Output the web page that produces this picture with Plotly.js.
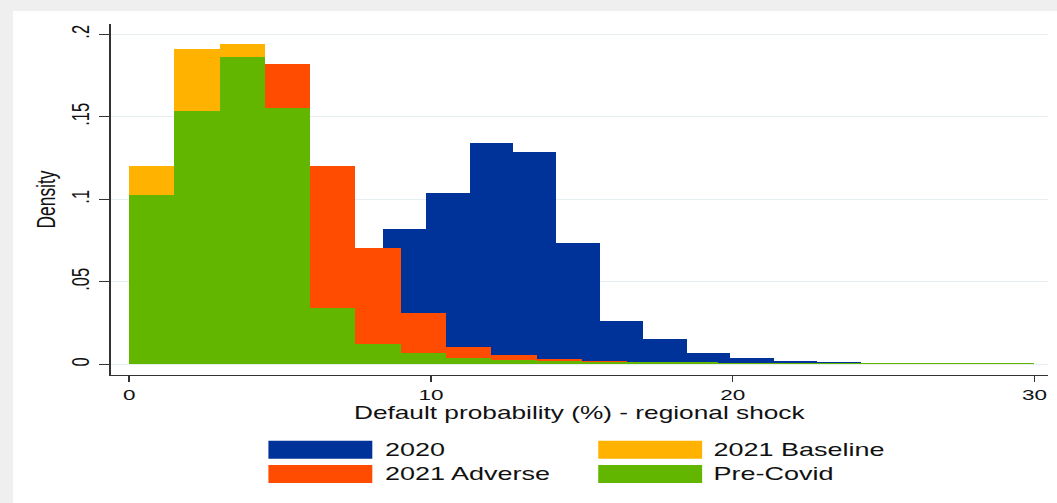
<!DOCTYPE html>
<html>
<head>
<meta charset="utf-8">
<script src="https://cdn.plot.ly/plotly-3.0.1.min.js"></script>
<style>
  html, body { margin: 0; padding: 0; width: 1057px; height: 503px; overflow: hidden; background: #efefef; }
  #chart { position: absolute; left: 13px; top: 11px; width: 696px; height: 492px;
           transform: scaleX(1.5); transform-origin: 0 0; background: #ffffff; }
</style>
</head>
<body>
<div id="chart"></div>
<script>
// ---- data ----
const seriesNames = ['2020', '2021 Baseline', '2021 Adverse', 'Pre-Covid'];

// 2020 histogram: bin left edges and densities
const binEdges2020 = [1.2, 2.64, 4.08, 5.52, 6.96, 8.4, 9.84, 11.28, 12.72, 14.16, 15.6, 17.04, 18.48, 19.92, 21.36, 22.8, 24.24];
const density2020  = [0.0005, 0.0005, 0.01, 0.03, 0.06, 0.0822, 0.1036, 0.1339, 0.1285, 0.0735, 0.0265, 0.0156, 0.0069, 0.0038, 0.0021, 0.0014, 0.0010];
const binWidth2020 = 1.44;

// 2021 / Pre-Covid histograms: bin left edges
const binEdges2021 = [0, 1.5, 3, 4.5, 6, 7.5, 9, 10.5, 12, 13.5, 15, 16.5, 18, 19.5, 21, 22.5, 24, 25.5, 27, 28.5];
const densityBaseline = [0.1202, 0.1909, 0.1941, 0.1, 0.03, 0.012, 0.005, 0.003, 0.002, 0.0015, 0.001, 0.001];
const densityAdverse  = [0.012, 0.07, 0.15, 0.182, 0.1202, 0.0705, 0.0311, 0.0103, 0.0056, 0.0031, 0.0021, 0.0015, 0.0012, 0.0009];
const densityPreCovid = [0.1028, 0.1533, 0.1861, 0.1553, 0.0343, 0.0123, 0.0068, 0.0041, 0.0029, 0.0021, 0.0016, 0.0013, 0.0011, 0.0010, 0.0008, 0.0007, 0.0007, 0.0006, 0.0006, 0.0006];
const binWidth2021 = 1.5;

const xTickVals = [0, 10, 20, 30];
const yTickVals = [0, 0.05, 0.1, 0.15, 0.2];
const yTickText = ['0', '.05', '.1', '.15', '.2'];
const xTitle = 'Default probability (%) - regional shock';
const yTitle = 'Density';

// ---- styling ----
const colors = { '2020': '#003399', '2021 Baseline': '#ffb200', '2021 Adverse': '#ff4c00', 'Pre-Covid': '#63b600' };
const FONT = '"Liberation Sans", Arial, Helvetica, sans-serif';
const W = 696, H = 492;
const M = { l: 64.67, r: 6, t: 13, b: 128 };
const plotW = W - M.l - M.r, plotH = H - M.t - M.b;
const xP = u => (u - M.l) / plotW;
const yP = d => (H - M.b - d) / plotH;

function barTrace(name, edges, vals, width) {
  return {
    type: 'bar', name: name,
    x: edges.slice(0, vals.length), y: vals,
    width: width, offset: 0,
    marker: { color: colors[name], line: { width: 0 } },
    showlegend: false, hoverinfo: 'x+y+name'
  };
}

const traces = [
  barTrace('2020', binEdges2020, density2020, binWidth2020),
  barTrace('2021 Baseline', binEdges2021, densityBaseline, binWidth2021),
  barTrace('2021 Adverse', binEdges2021, densityAdverse, binWidth2021),
  barTrace('Pre-Covid', binEdges2021, densityPreCovid, binWidth2021)
];

// legend drawn as wide swatches (2 columns x 2 rows)
const legendCols = [170, 390];
const legendTextX = [245.3, 465.3];
const legendRows = [438.7, 463];
const swatchW = 69.3, swatchH = 18;
const shapes = [], annotations = [];
seriesNames.forEach((nm, i) => {
  const c = i % 2, r = Math.floor(i / 2);
  shapes.push({
    type: 'rect', xref: 'paper', yref: 'paper',
    x0: xP(legendCols[c]), x1: xP(legendCols[c] + swatchW),
    y0: yP(legendRows[r] + swatchH / 2), y1: yP(legendRows[r] - swatchH / 2),
    fillcolor: colors[nm], line: { width: 0 }
  });
  annotations.push({
    xref: 'paper', yref: 'paper', x: xP(legendTextX[c]), y: yP(legendRows[r]),
    xanchor: 'left', yanchor: 'middle', showarrow: false, text: nm,
    font: { family: FONT, size: 18, color: '#111' }
  });
});

const layout = {
  width: W, height: H,
  margin: { l: M.l, r: M.r, t: M.t, b: M.b, pad: 0 },
  paper_bgcolor: '#ffffff', plot_bgcolor: '#ffffff',
  barmode: 'overlay', bargap: 0,
  font: { family: FONT, color: '#111' },
  xaxis: {
    range: [-0.619, 30.45], tickvals: xTickVals, ticktext: xTickVals.map(String),
    ticks: 'outside', ticklen: 6, tickwidth: 1, tickcolor: '#333',
    showline: true, linecolor: '#333', linewidth: 1.3,
    showgrid: false, zeroline: false, automargin: false,
    tickfont: { family: FONT, size: 15, color: '#111' },
    title: { text: xTitle, font: { family: FONT, size: 17.5, color: '#111' }, standoff: 2 }
  },
  yaxis: {
    range: [-0.00648, 0.2062], tickvals: yTickVals, ticktext: yTickText, tickangle: -90,
    ticks: 'outside', ticklen: 6.7, tickwidth: 1.3, tickcolor: '#333',
    showline: true, linecolor: '#333', linewidth: 1,
    showgrid: true, gridcolor: '#e6eef1', gridwidth: 1.3, zeroline: false, automargin: false,
    tickfont: { family: FONT, size: 16.5, color: '#111' },
    title: { text: yTitle, font: { family: FONT, size: 17.4, color: '#111' }, standoff: 2 }
  },
  shapes: shapes, annotations: annotations
};

Plotly.newPlot('chart', traces, layout, { displayModeBar: false, staticPlot: true });
</script>
</body>
</html>
